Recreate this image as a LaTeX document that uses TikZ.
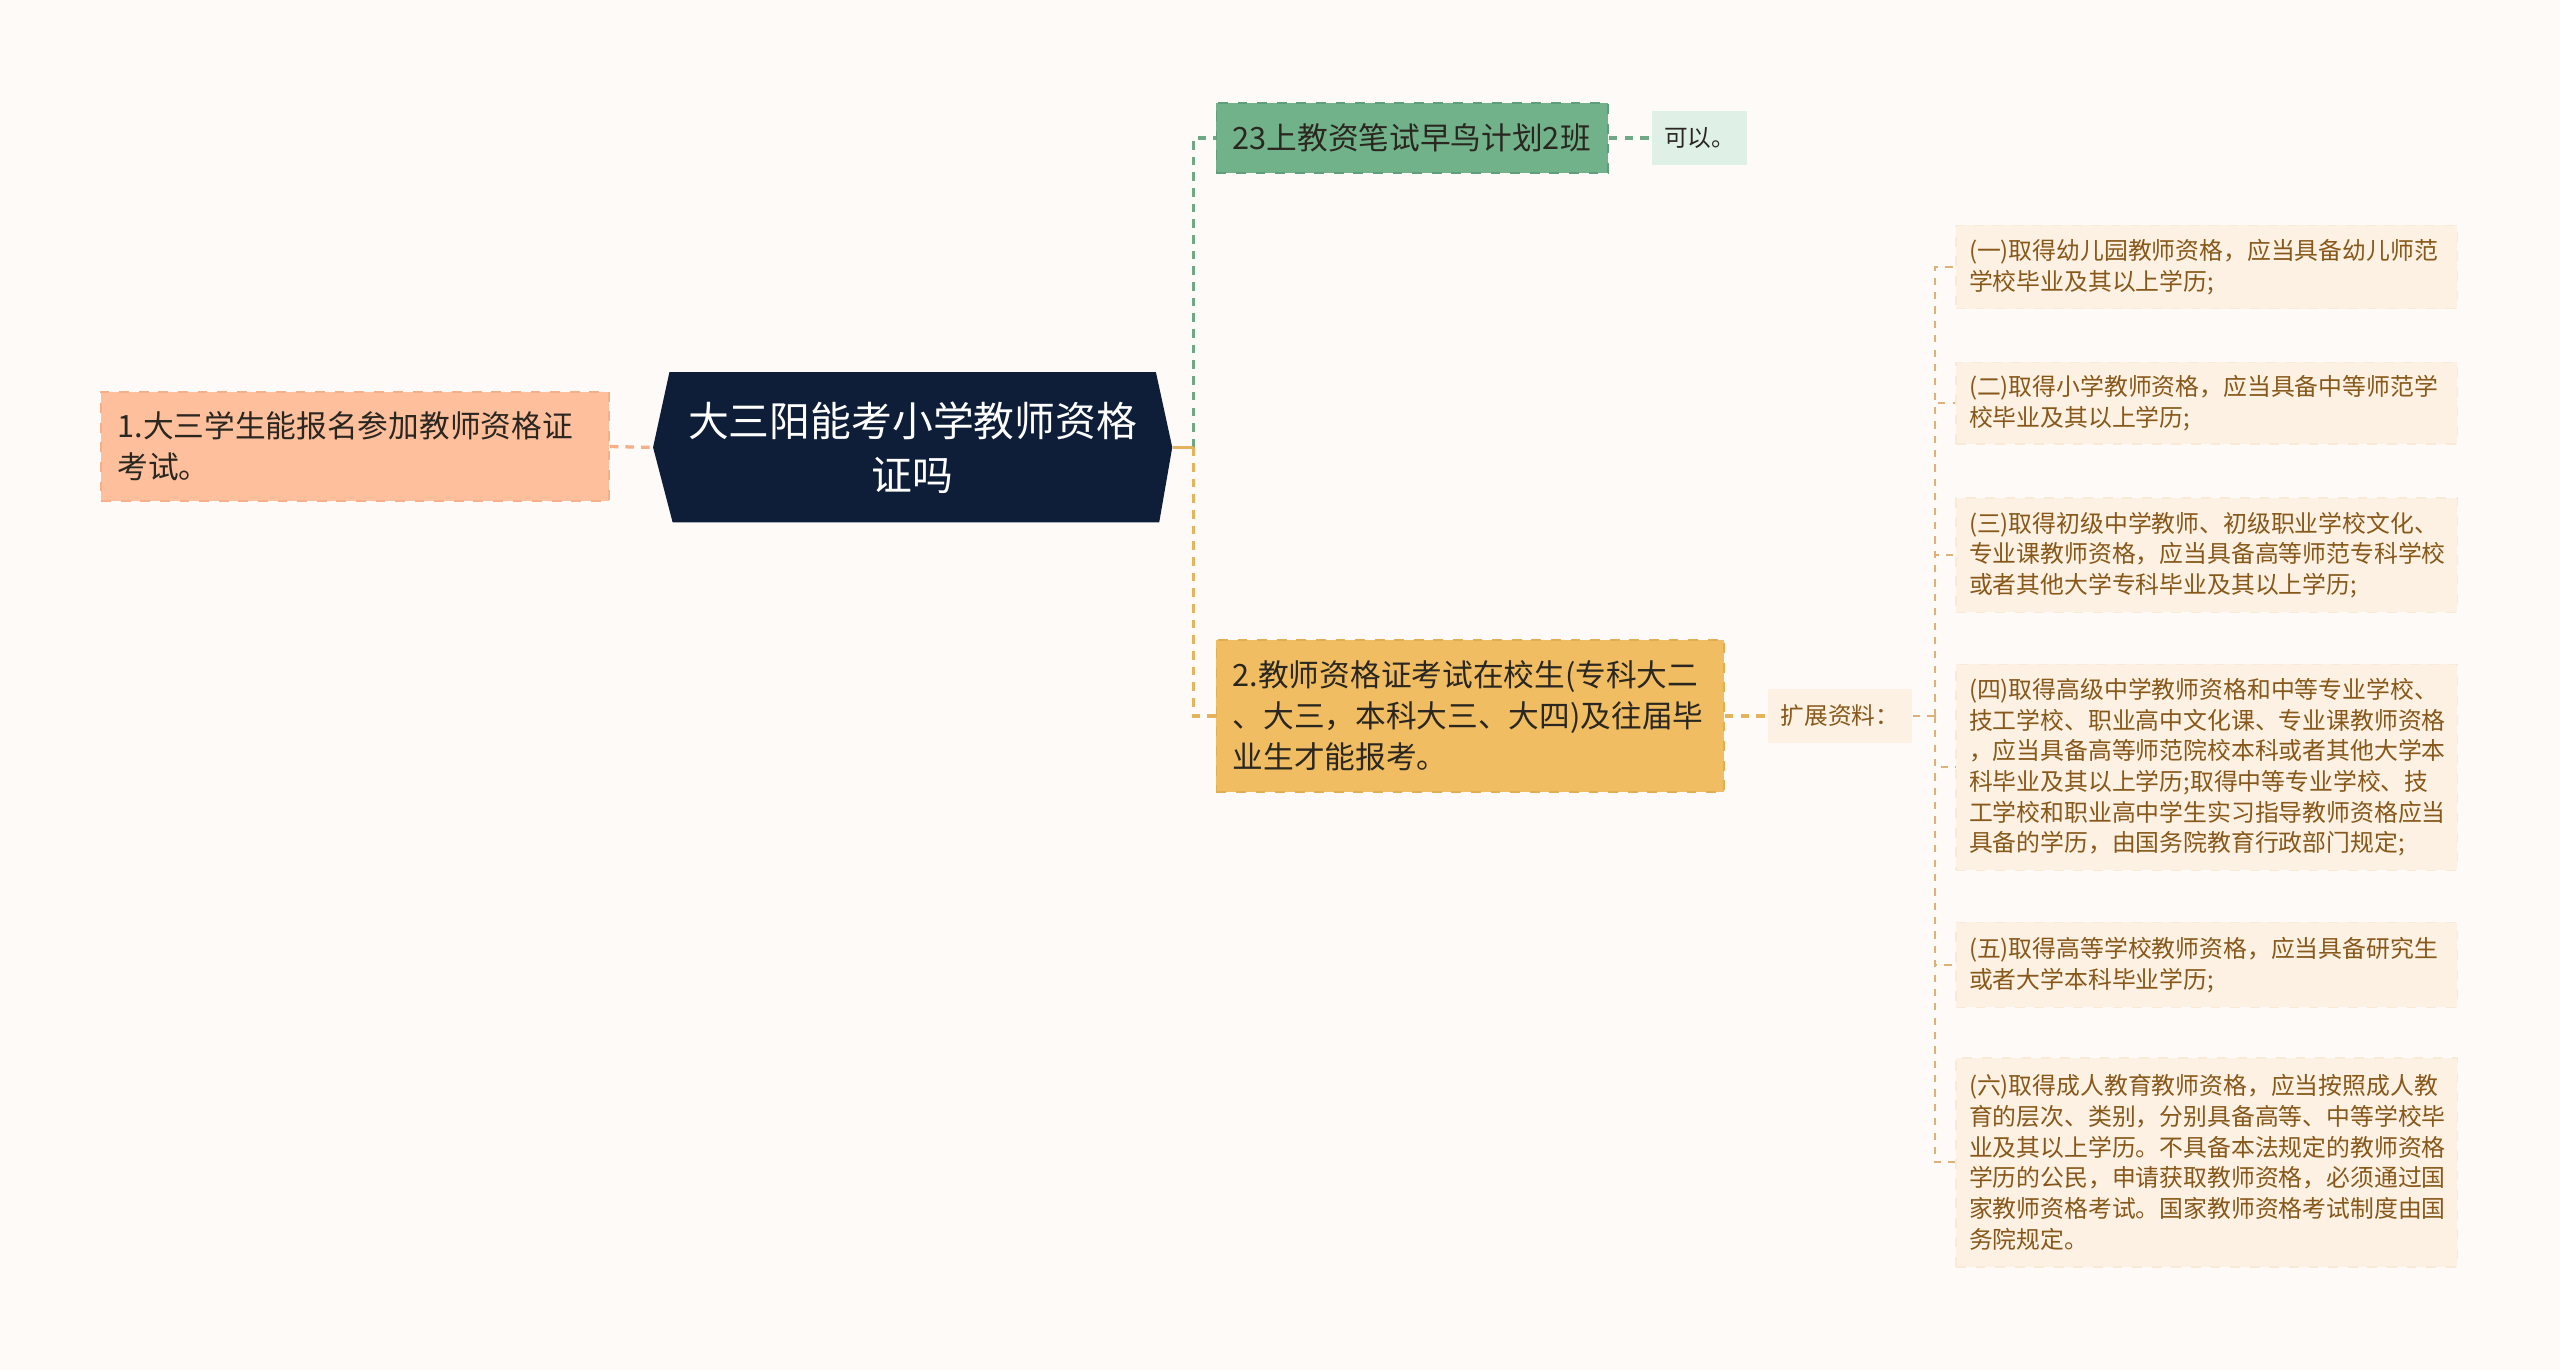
\documentclass[tikz,border=0pt]{standalone}
\usepackage{fontspec}
\newfontfamily\cjk{Noto Sans CJK SC}
\definecolor{bgc}{HTML}{FEFAF8}
\definecolor{navy}{HTML}{0E1E38}
\definecolor{peach}{HTML}{FDBF9C}
\definecolor{peachb}{HTML}{F5B089}
\definecolor{green}{HTML}{72B28A}
\definecolor{greenb}{HTML}{5E9E78}
\definecolor{greenl}{HTML}{DFF0E6}
\definecolor{orange}{HTML}{F0BD62}
\definecolor{orangeb}{HTML}{E3AE50}
\definecolor{leaff}{HTML}{FCF1E2}
\definecolor{leafb}{HTML}{F8EAD6}
\definecolor{leaft}{HTML}{87581A}
\definecolor{leafl}{HTML}{DDB27A}
\definecolor{darkt}{HTML}{2A2620}
\tikzset{
  x=0.5pt, y=-0.5pt,
  base/.style={font=\cjk, inner xsep=5pt, inner ysep=0pt, align=left},
  peachbox/.style={base, fill=peach, draw=peachb, dashed, line width=0.5pt, text=darkt,
    minimum width=155.5pt, minimum height=33.5pt, text width=145.5pt,
    font=\cjk\fontsize{9.4pt}{12.5pt}\selectfont},
  greenbox/.style={base, fill=green, draw=greenb, dashed, line width=0.5pt, text=darkt,
    minimum width=120pt, minimum height=21.5pt, text width=110pt,
    font=\cjk\fontsize{9.4pt}{12.5pt}\selectfont},
  orangebox/.style={base, fill=orange, draw=orangeb, dashed, line width=0.5pt, text=darkt,
    minimum width=155.5pt, minimum height=46.5pt, text width=145.5pt,
    font=\cjk\fontsize{9.4pt}{12.5pt}\selectfont},
  smallgreen/.style={base, fill=greenl, align=center, text=darkt, inner xsep=0pt,
    minimum width=29pt, minimum height=16.5pt,
    font=\cjk\fontsize{7.25pt}{9pt}\selectfont},
  extbox/.style={base, fill=leaff, align=center, text=leaft, inner xsep=0pt,
    minimum width=44pt, minimum height=16.5pt,
    font=\cjk\fontsize{7.25pt}{9pt}\selectfont},
  leafbox/.style={base, fill=leaff, draw=leafb, dashed, line width=0.4pt, text=leaft,
    inner xsep=4pt, minimum width=153.5pt, text width=145.5pt,
    font=\cjk\fontsize{7.3pt}{9.4pt}\selectfont},
  conn/.style={line width=1pt, dash pattern=on 2.6pt off 2.2pt},
  peachline/.style={conn, draw=peachb},
  greenline/.style={conn, draw=greenb!90},
  orangeline/.style={conn, draw=orange!95!black},
  leafline/.style={line width=0.6pt, dash pattern=on 2.2pt off 2.2pt, draw=leafl},
}
\begin{document}
\begin{tikzpicture}
\fill[bgc] (0,0) rectangle (1568,839);
\useasboundingbox (0,0) rectangle (1568,839);

% root hexagon
\fill[navy] (410,228) -- (708,228) -- (718,274) -- (710,320) -- (412,320) -- (400,274) -- cycle;
\node[font=\cjk\fontsize{12.5pt}{16.5pt}\selectfont, text=white, align=center,
  minimum width=159pt, minimum height=46pt, inner sep=0pt] (root) at (559,274)
  {大三阳能考小学教师资格\\证吗};

\node[peachbox] (left) at (217.5,273.5) {1.大三学生能报名参加教师资格证\\考试。};

\node[greenbox] (green) at (865,84.5) {23上教资笔试早鸟计划2班};
\node[smallgreen] (ok) at (1041,84.5) {可以。};

\node[orangebox] (orange) at (900.5,438.5) {2.教师资格证考试在校生(专科大二\\、大三，本科大三、大四)及往届毕\\业生才能报考。};
\node[extbox] (ext) at (1127,438.5) {扩展资料：};

\node[leafbox, minimum height=25.5pt] (l1) at (1351.5,163.5) {(一)取得幼儿园教师资格，应当具备幼儿师范\\学校毕业及其以上学历;};
\node[leafbox, minimum height=25pt] (l2) at (1351.5,247) {(二)取得小学教师资格，应当具备中等师范学\\校毕业及其以上学历;};
\node[leafbox, minimum height=35pt] (l3) at (1351.5,340) {(三)取得初级中学教师、初级职业学校文化、\\专业课教师资格，应当具备高等师范专科学校\\或者其他大学专科毕业及其以上学历;};
\node[leafbox, minimum height=63pt] (l4) at (1351.5,470) {(四)取得高级中学教师资格和中等专业学校、\\技工学校、职业高中文化课、专业课教师资格\\，应当具备高等师范院校本科或者其他大学本\\科毕业及其以上学历;取得中等专业学校、技\\工学校和职业高中学生实习指导教师资格应当\\具备的学历，由国务院教育行政部门规定;};
\node[leafbox, minimum height=26pt] (l5) at (1351.5,591) {(五)取得高等学校教师资格，应当具备研究生\\或者大学本科毕业学历;};
\node[leafbox, minimum height=64pt] (l6) at (1351.5,712) {(六)取得成人教育教师资格，应当按照成人教\\育的层次、类别，分别具备高等、中等学校毕\\业及其以上学历。不具备本法规定的教师资格\\学历的公民，申请获取教师资格，必须通过国\\家教师资格考试。国家教师资格考试制度由国\\务院规定。};

% connectors
\coordinate (j) at (731,274);
\coordinate (k) at (1185,438.5);
\draw[peachline] (left.east) -- (root.west);
\draw[greenline] (j) |- (green.west);
\draw[orangeline] (j) |- (orange.west);
\draw[orange!95!black, line width=1pt] (root.east) -- (j);
\draw[greenline] (green.east) -- (ok.west);
\draw[orangeline] (orange.east) -- (ext.west);
\draw[leafline] (ext.east) -- (k);
\foreach \n in {l1,l2,l3,l4,l5,l6} {\draw[leafline] (k) |- (\n.west);}
\end{tikzpicture}
\end{document}
